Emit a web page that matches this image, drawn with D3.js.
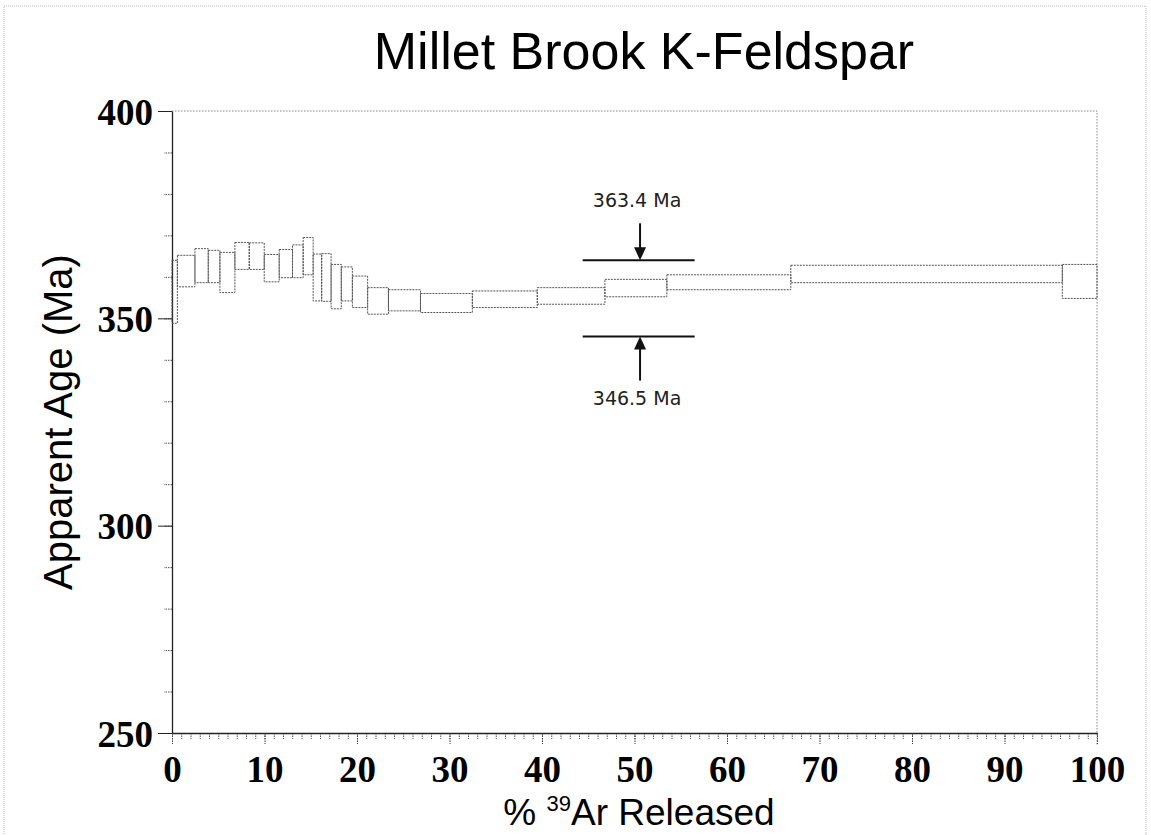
<!DOCTYPE html>
<html>
<head>
<meta charset="utf-8">
<script src="https://cdn.jsdelivr.net/npm/d3@7"></script>
<style>
  body { margin: 0; background: #fff; }
  svg { display: block; }
</style>
</head>
<body>
<div id="graph"></div>
<script>

// DATA

// cumulative % 39Ar released at the step boundaries
var cumPct = [0, 0.58, 2.48, 3.92, 5.18, 6.80, 8.35, 9.97, 11.59, 13.03, 14.18, 15.26,
              16.18, 17.2, 18.3, 19.5, 21.15, 23.4, 26.86, 32.47, 39.49, 46.8, 53.5,
              66.9, 96.25, 100];

// apparent age of each step (Ma), lower and upper edge of the box
var ageLow  = [348.8, 357.6, 358.6, 358.6, 356.2, 361.8, 361.8, 358.8, 359.8, 359.8,
               360.5, 354.2, 354.1, 352.3, 354.2, 352.6, 351.0, 351.8, 351.4, 352.6,
               353.4, 355.2, 356.9, 358.6, 354.8];
var ageHigh = [364.0, 365.2, 366.8, 366.4, 365.9, 368.3, 368.2, 365.4, 366.6, 367.7,
               369.5, 365.5, 365.6, 363.0, 362.4, 360.2, 357.4, 356.9, 356.0, 356.6,
               357.4, 359.4, 360.5, 362.8, 363.0];

// plateau bracket
var bracketAges = [364.0, 345.6];
var bracketLabels = ["363.4 Ma", "346.5 Ma"];
var bracketPct = [44.4, 56.5];
var arrowPct = 50.6;

var xTicks = [0, 10, 20, 30, 40, 50, 60, 70, 80, 90, 100];
var yTicks = [250, 300, 350, 400];

// D3 CODE

var width = 1151;
var height = 835;

var x = d3.scaleLinear()
    .domain([0, 100])
    .range([172, 1097]);

var y = d3.scaleLinear()
    .domain([250, 400])
    .range([733, 111]);

var svg = d3.select("#graph")
    .append("svg")
    .attr("width", width)
    .attr("height", height);

// faint page frame
svg.append("rect")
    .attr("x", 4).attr("y", 6)
    .attr("width", 1142).attr("height", 845)
    .style("fill", "none")
    .style("stroke", "#bbb")
    .style("stroke-dasharray", "1,1");

// title
svg.append("text")
    .attr("x", 644).attr("y", 69)
    .attr("text-anchor", "middle")
    .style("font-family", "'Liberation Sans', Arial, sans-serif")
    .style("font-size", "52px")
    .text("Millet Brook K-Feldspar");

// top and right frame (dotted)
svg.append("path")
    .attr("d", "M" + x(0) + "," + y(400) + "H" + x(100) + "V" + (y(250) + 12))
    .style("fill", "none")
    .style("stroke", "#888")
    .style("stroke-dasharray", "1.5,1.5");

// minor ticks
var xMinor = svg.append("g")
    .attr("transform", "translate(0," + y(250) + ")")
    .call(d3.axisBottom(x).tickValues(d3.range(0, 101, 1)).tickSize(6).tickFormat(""));
xMinor.select(".domain").remove();
xMinor.selectAll("line").style("stroke", "#555").style("stroke-dasharray", "1.5,1");

var yMinor = svg.append("g")
    .attr("transform", "translate(" + x(0) + ",0)")
    .call(d3.axisLeft(y).tickValues(d3.range(250, 401, 10)).tickSize(8).tickFormat(""));
yMinor.select(".domain").remove();
yMinor.selectAll("line").style("stroke", "#555").style("stroke-dasharray", "1.5,1");

// major axes
var xAxis = svg.append("g")
    .attr("transform", "translate(0," + y(250) + ")")
    .call(d3.axisBottom(x).tickValues(xTicks).tickSize(11).tickPadding(12).tickSizeOuter(0));
xAxis.select(".domain").style("stroke", "#222").style("stroke-width", 1.3);
xAxis.selectAll("line").style("stroke", "#333").style("stroke-dasharray", "1.5,1");
xAxis.selectAll("text")
    .style("font-family", "'Liberation Serif', 'Times New Roman', serif")
    .style("font-weight", "bold")
    .style("font-size", "37px")
    .style("fill", "#000");

var yAxis = svg.append("g")
    .attr("transform", "translate(" + x(0) + ",0)")
    .call(d3.axisLeft(y).tickValues(yTicks).tickSize(14).tickPadding(5).tickSizeOuter(0));
yAxis.select(".domain").style("stroke", "#222").style("stroke-width", 1.3);
yAxis.selectAll("line").style("stroke", "#222");
yAxis.selectAll("text")
    .attr("dy", "0.36em")
    .style("font-family", "'Liberation Serif', 'Times New Roman', serif")
    .style("font-weight", "bold")
    .style("font-size", "37px")
    .style("fill", "#000");

// axis titles
svg.append("text")
    .attr("transform", "translate(72,422) rotate(-90)")
    .attr("text-anchor", "middle")
    .style("font-family", "'Liberation Sans', Arial, sans-serif")
    .style("font-size", "40px")
    .text("Apparent Age (Ma)");

var xt = svg.append("text")
    .attr("x", 639).attr("y", 825)
    .attr("text-anchor", "middle")
    .style("font-family", "'Liberation Sans', Arial, sans-serif")
    .style("font-size", "37px");
xt.append("tspan").text("% ");
xt.append("tspan").attr("dy", -14).style("font-size", "22px").text("39");
xt.append("tspan").attr("dy", 14).text("Ar Released");

// step boxes
var steps = ageLow.map(function (lo, i) {
    return { x0: cumPct[i], x1: cumPct[i + 1], lo: lo, hi: ageHigh[i] };
});

svg.selectAll("rect.step")
    .data(steps)
    .enter()
    .append("rect")
    .attr("class", "step")
    .attr("x", function (d) { return x(d.x0); })
    .attr("width", function (d) { return x(d.x1) - x(d.x0); })
    .attr("y", function (d) { return y(d.hi); })
    .attr("height", function (d) { return y(d.lo) - y(d.hi); })
    .style("fill", "none")
    .style("stroke", "#555")
    .style("stroke-width", 1)
    .style("stroke-dasharray", "2,1");

// plateau bracket bars + arrows
svg.selectAll("line.bracket")
    .data(bracketAges)
    .enter()
    .append("line")
    .attr("class", "bracket")
    .attr("x1", x(bracketPct[0]))
    .attr("x2", x(bracketPct[1]))
    .attr("y1", function (d) { return y(d); })
    .attr("y2", function (d) { return y(d); })
    .style("stroke", "#111")
    .style("stroke-width", 2);

var ax = x(arrowPct);
bracketAges.forEach(function (a, i) {
    var yb = y(a);
    var dir = i === 0 ? -1 : 1;   // upper arrow points down, lower points up
    svg.append("line")
        .attr("x1", ax).attr("x2", ax)
        .attr("y1", yb + dir * 10).attr("y2", yb + dir * (i === 0 ? 37 : 44))
        .style("stroke", "#111")
        .style("stroke-width", 2);
    svg.append("path")
        .attr("d", "M" + ax + "," + yb + "L" + (ax - 6) + "," + (yb + dir * 13) + "L" + (ax + 6) + "," + (yb + dir * 13) + "Z")
        .style("fill", "#111");
    svg.append("text")
        .attr("x", ax - 3)
        .attr("y", i === 0 ? yb - 53 : yb + 68)
        .attr("text-anchor", "middle")
        .style("font-family", "'DejaVu Sans', sans-serif")
        .style("font-size", "19px")
        .style("fill", "#222")
        .text(bracketLabels[i]);
});

</script>
</body>
</html>
